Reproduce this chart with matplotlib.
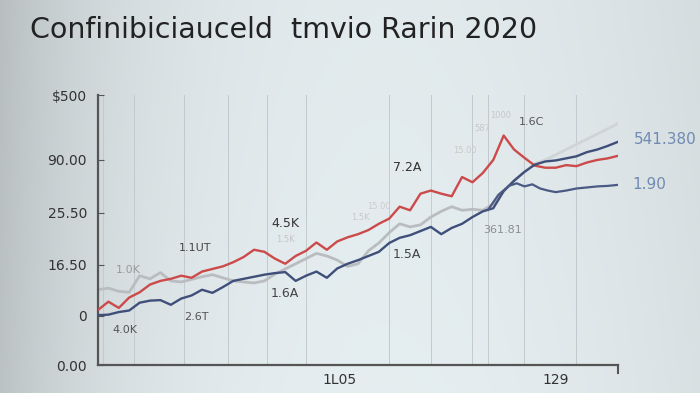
import numpy as np
import matplotlib.pyplot as plt

# ---------------------------------------------------------------
# data
x = list(range(0, 101, 2))

red = [1.06, 1.22, 1.10, 1.30, 1.40, 1.55, 1.62, 1.66, 1.72, 1.68,
       1.80, 1.85, 1.90, 1.98, 2.08, 2.22, 2.18, 2.05, 1.95, 2.10,
       2.20, 2.36, 2.22, 2.38, 2.46, 2.52, 2.60, 2.72, 2.82, 3.05,
       2.98, 3.30, 3.36, 3.30, 3.25, 3.62, 3.52, 3.70, 3.95, 4.42,
       4.15, 3.99, 3.84, 3.80, 3.80, 3.85, 3.83, 3.90, 3.95, 3.98, 4.03]

navy = [0.96, 0.97, 1.02, 1.05, 1.20, 1.24, 1.25, 1.16, 1.28, 1.34,
        1.45, 1.39, 1.50, 1.62, 1.66, 1.70, 1.74, 1.77, 1.79, 1.62,
        1.72, 1.80, 1.68, 1.86, 1.95, 2.02, 2.10, 2.18, 2.35, 2.45,
        2.50, 2.58, 2.66, 2.52, 2.64, 2.72, 2.85, 2.96, 3.02, 3.35,
        3.55, 3.72, 3.86, 3.92, 3.94, 3.98, 4.02, 4.10, 4.15, 4.22, 4.30]

gray = [1.45, 1.48, 1.42, 1.40, 1.72, 1.66, 1.78, 1.62, 1.60, 1.65,
        1.70, 1.74, 1.68, 1.62, 1.60, 1.58, 1.62, 1.75, 1.85, 1.95,
        2.05, 2.15, 2.10, 2.02, 1.90, 1.95, 2.20, 2.35, 2.55, 2.72,
        2.66, 2.70, 2.85, 2.96, 3.05, 2.98, 3.00, 2.98, 3.10, 3.35,
        3.55, 3.72, 3.88, 3.95, 4.05, 4.15, 4.25, 4.35, 4.45, 4.55, 4.65]

branch_x = [75, 77, 79, 80.5, 82, 83.5, 85, 86.5, 88, 90, 92, 94, 96, 98, 100]
branch_y = [2.99, 3.28, 3.45, 3.50, 3.44, 3.48, 3.40, 3.36, 3.33, 3.36,
            3.40, 3.42, 3.44, 3.45, 3.47]

ytick_pos = [0, 0.95, 1.93, 2.93, 3.95, 5.2]
ytick_labels = ['0.00', '0', '16.50', '25.50', '90.00', '$500']
xtick_pos = [46.5, 88]
xtick_labels = ['1L05', '129']
grid_x = [1, 7, 16.5, 25, 32.5, 40, 56, 64, 72, 75, 82, 92]

# labels: (text, x, y, colour, size)
notes = [('4.0K', 5.2, 0.67, '#555555', 8),
         ('2.6T', 19, 0.92, '#555555', 8),
         ('1.0K', 5.8, 1.83, '#9a9a9a', 8),
         ('1.1UT', 18.7, 2.25, '#444444', 8),
         ('4.5K', 36, 2.72, '#333333', 9),
         ('1.5K', 36, 2.42, '#c4c4c4', 6),
         ('1.6A', 36, 1.37, '#444444', 9),
         ('1.5K', 50.4, 2.85, '#c8c8c8', 6),
         ('15.00', 54, 3.05, '#cccccc', 6),
         ('7.2A', 59.4, 3.80, '#333333', 9),
         ('1.5A', 59.4, 2.12, '#444444', 9),
         ('15.00', 70.5, 4.14, '#c8c8c8', 6),
         ('587', 74, 4.55, '#c8c8c8', 6),
         ('1000', 77.5, 4.80, '#c8c8c8', 6),
         ('361.81', 77.7, 2.60, '#8a8f94', 8),
         ('1.6C', 83.3, 4.68, '#555555', 8)]

# ---------------------------------------------------------------
fig = plt.figure(figsize=(7, 3.93), dpi=100)

# soft background, darker toward the left edge
bg = fig.add_axes([0, 0, 1, 1], zorder=-1)
gx = np.linspace(0, 1, 300)
gy = np.linspace(0, 1, 200)
GX, GY = np.meshgrid(gx, gy)
shade = 0.945 - 0.12 * np.exp(-GX / 0.15) - 0.22 * (GX - 0.5) ** 2 - 0.015 * (1 - GY)
img = np.dstack([shade * 0.955, shade * 0.99, shade * 1.0]).clip(0, 1)
bg.imshow(img, aspect='auto', extent=[0, 1, 0, 1])
bg.axis('off')

ax = fig.add_axes([0.14, 0.0712, 0.743, 0.687])
ax.set_facecolor('none')

for gxp in grid_x:
    ax.axvline(gxp, color='#c2cacd', lw=0.7, zorder=0)

bx = x[41:]
ax.fill_between(bx, navy[41:], gray[41:], color='#dde3e7', alpha=0.7, zorder=1)
ax.plot(x[:42], gray[:42], color='#b9bdc0', lw=2.0, zorder=2)
ax.plot(x[41:], gray[41:], color='#cfd4d7', lw=2.0, zorder=2)
ax.plot(x, red, color='#cc4a4a', lw=1.7, zorder=3)
ax.plot(x, navy, color='#3f4f7a', lw=1.7, zorder=4)
ax.plot(branch_x, branch_y, color='#4b5a84', lw=1.6, zorder=4)

for t, tx, ty, c, s in notes:
    ax.text(tx, ty, t, color=c, fontsize=s, ha='center', va='center', zorder=5)

ax.text(109, 4.34, '541.380', color='#6f8ab3', fontsize=11, ha='center', va='center', clip_on=False)
ax.text(106, 3.47, '1.90', color='#6f8ab3', fontsize=11, ha='center', va='center', clip_on=False)

ax.plot([100, 100], [0, -0.15], color='#555555', lw=1.5, clip_on=False)

ax.set_xlim(0, 100)
ax.set_ylim(0, 5.2)
ax.set_yticks(ytick_pos)
ax.set_yticklabels(ytick_labels)
ax.set_xticks(xtick_pos)
ax.set_xticklabels(xtick_labels)
ax.tick_params(axis='y', direction='in', length=4, colors='#555555', labelcolor='#333333', labelsize=10, pad=8)
ax.tick_params(axis='x', length=0, labelcolor='#333333', labelsize=10, pad=6)
for side in ['top', 'right']:
    ax.spines[side].set_visible(False)
for side in ['left', 'bottom']:
    ax.spines[side].set_color('#555555')
    ax.spines[side].set_linewidth(1.6)

fig.text(0.043, 0.924, 'Confinibiciauceld  tmvio Rarin 2020', fontsize=20.5,
         color='#222222', ha='left', va='center')

fig.savefig('out.png', dpi=100)
